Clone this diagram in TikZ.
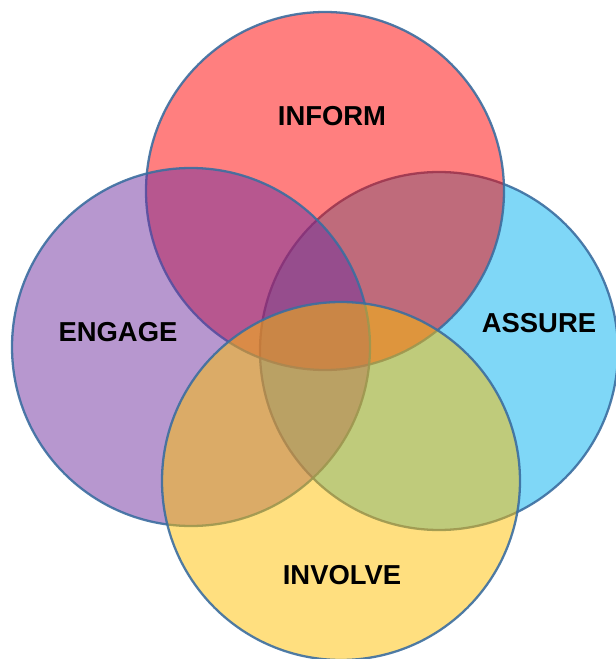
\documentclass[tikz,border=0pt]{standalone}
\usepackage{fontspec}
\setmainfont{Liberation Sans}
\definecolor{rimblue}{RGB}{60,110,160}
\definecolor{informred}{RGB}{255,0,0}
\definecolor{engagepurple}{RGB}{112,48,160}
\definecolor{assurecyan}{RGB}{0,176,240}
\definecolor{involvegold}{RGB}{255,192,0}
\tikzset{
	ring/.style={draw=rimblue, line width=1.3pt, draw opacity=0.9, fill opacity=0.5},
	tag/.style={font=\fontsize{15.6}{18}\selectfont\bfseries, text=black}
}
\begin{document}
\begin{tikzpicture}
	\useasboundingbox (0,0) rectangle (12.32,13.18);
	% circles, back to front
	\draw [ring, fill=assurecyan] (8.78,6.16) circle (3.58);
	\draw [ring, fill=informred] (6.5,9.36) circle (3.58);
	\draw [ring, fill=engagepurple] (3.82,6.24) circle (3.58);
	\draw [ring, fill=involvegold] (6.82,3.56) circle (3.58);
	% labels
	\node [tag] (inform) at (6.64,10.86) {INFORM};
	\node [tag] (engage) at (2.36,6.54) {ENGAGE};
	\node [tag] (assure) at (10.78,6.72) {ASSURE};
	\node [tag] (involve) at (6.84,1.68) {INVOLVE};
\end{tikzpicture}
\end{document}
